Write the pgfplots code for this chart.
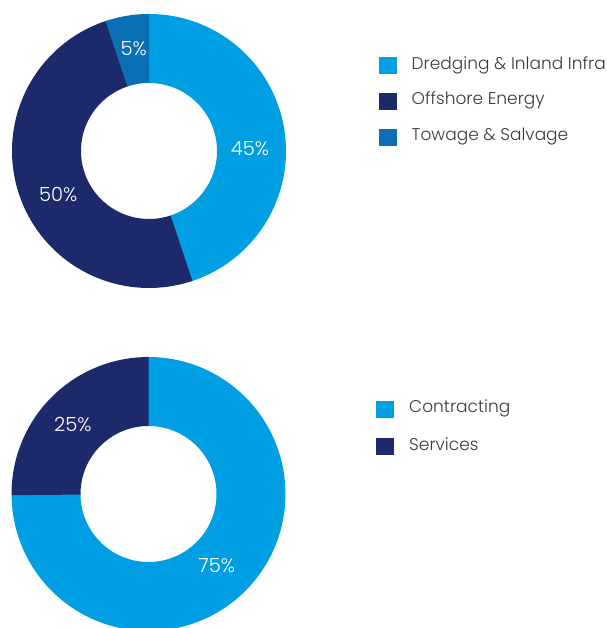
\documentclass[border=0pt]{standalone}
\usepackage{pgfplots}
\pgfplotsset{compat=1.18}
\usepackage{fontspec}
\setmainfont{Poppins Light}

\definecolor{lightblue}{HTML}{009FE3}
\definecolor{navy}{HTML}{1C2A6B}
\definecolor{midblue}{HTML}{0A6FB5}
\definecolor{txtgray}{HTML}{3A3A3A}

% one ring segment: colour, centre x, centre y, start angle, percent
% t in [0,1]: outer arc, [1,2]: radial edge, [2,3]: inner arc back
% (starts 0.5 deg early so that neighbouring fills overlap without a seam)
\newcommand{\donutseg}[5]{%
  \addplot[fill=#1, draw=none, domain=0:3, samples=451,
           variable=\t, forget plot]
   ({#2 + ((\t<=1) ? 137 : ((\t<=2) ? (137-69*(\t-1)) : 68))
          *cos(#4 + 0.5 - (3.6*#5+0.5)*((\t<=1) ? \t : ((\t<=2) ? 1 : (3-\t))))},
    {#3 + ((\t<=1) ? 137 : ((\t<=2) ? (137-69*(\t-1)) : 68))
          *sin(#4 + 0.5 - (3.6*#5+0.5)*((\t<=1) ? \t : ((\t<=2) ? 1 : (3-\t))))});
}

\pgfplotsset{
  donut/.style={
    at={(0pt,0pt)}, anchor=origin,
    x=1pt, y=1pt, xmin=0, xmax=606, ymin=0, ymax=628,
    hide axis,
    legend cell align=left,
    legend image code/.code={\fill[##1, draw=none] (0pt,-8.75pt) rectangle (18pt,8.75pt);},
    legend style={draw=none, fill=none, inner sep=0pt, anchor=west,
      column sep=15pt, font=\fontsize{17}{20}\selectfont, text=txtgray,
      nodes={inner sep=0pt, text height=0.95em, text depth=0.25em}},
  },
}
\tikzset{pct/.style={font=\fontsize{19.5}{22}\selectfont, text=white, inner sep=0pt}}

\begin{document}
\begin{tikzpicture}
\useasboundingbox (0,0) rectangle (606pt,628pt);

% upper ring: segments
\begin{axis}[donut,
  legend style={at={(axis cs:378.5,526.5)}, row sep=18.3pt}]
\addlegendimage{fill=lightblue}
\addlegendentry{Dredging \& Inland Infra}
\addlegendimage{fill=navy}
\addlegendentry{Offshore Energy}
\addlegendimage{fill=midblue}
\addlegendentry{Towage \& Salvage}
\donutseg{lightblue}{149}{477}{90}{45}
\donutseg{navy}{149}{477}{-72}{50}
\donutseg{midblue}{149}{477}{-252}{5}
\node[pct] at (axis cs:133.7,579.3) {5\%};
\node[pct] at (axis cs:250,479.2) {45\%};
\node[pct] at (axis cs:58.3,433.5) {50\%};
\end{axis}

% lower ring: activities
\begin{axis}[donut,
  legend style={at={(axis cs:376,200)}, row sep=19.9pt}]
\addlegendimage{fill=lightblue}
\addlegendentry{Contracting}
\addlegendimage{fill=navy}
\addlegendentry{Services}
\donutseg{lightblue}{148.5}{134}{90}{75}
\donutseg{navy}{148.5}{134}{-180}{25}
\node[pct] at (axis cs:216.7,62.2) {75\%};
\node[pct] at (axis cs:72.8,203) {25\%};
\end{axis}
\end{tikzpicture}
\end{document}
